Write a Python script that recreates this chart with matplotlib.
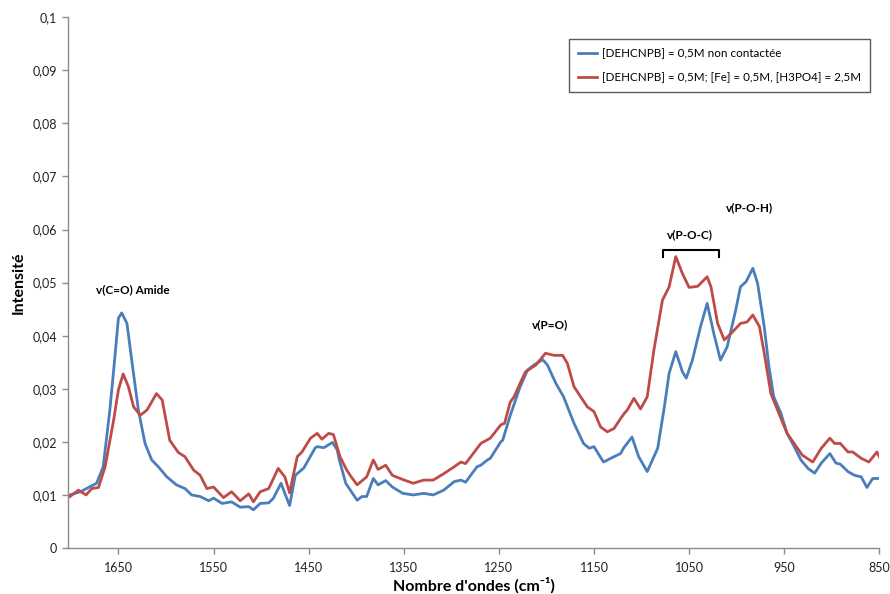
import matplotlib
matplotlib.use("Agg")
import matplotlib.pyplot as plt
from matplotlib.ticker import FuncFormatter

plt.rcParams['font.family'] = ['Lato', 'DejaVu Sans']

# Blue: [DEHCNPB] = 0,5M non contactée
wn_blue = [1701, 1690, 1673, 1666, 1659, 1654, 1650, 1646.5, 1641, 1636, 1629, 1622, 1615, 1608,
           1599, 1589, 1580, 1573, 1564, 1555, 1550, 1541, 1531, 1522, 1513, 1508, 1501, 1492,
           1487, 1479, 1475, 1470, 1464, 1455, 1443, 1441, 1434, 1425, 1420, 1418, 1411, 1399,
           1394, 1389, 1382, 1377, 1369, 1362, 1351, 1340, 1329, 1319, 1308, 1297, 1290, 1285,
           1273, 1269, 1262, 1259, 1248, 1246, 1238, 1228, 1220, 1213, 1204, 1199, 1190, 1182,
           1171, 1161, 1155, 1150, 1140, 1129, 1122, 1119, 1110, 1103, 1094, 1083, 1076, 1071,
           1064, 1057, 1053, 1046.5, 1038, 1031, 1024, 1017, 1010, 1001, 996, 990, 983, 978,
           971, 966, 961, 953.5, 947, 939.5, 932.5, 925, 918, 911, 902, 895.6, 891, 883, 876,
           869, 863, 857, 850]
int_blue = [0.0100, 0.0106, 0.0122, 0.0153, 0.0260, 0.0354, 0.0433, 0.0443, 0.0423, 0.0354,
            0.0260, 0.0197, 0.0166, 0.0153, 0.0134, 0.0119, 0.0112, 0.0100, 0.0097, 0.0089,
            0.0094, 0.0084, 0.0087, 0.0077, 0.0078, 0.0072, 0.0084, 0.0085, 0.0094, 0.0122,
            0.0103, 0.0080, 0.0137, 0.0151, 0.0189, 0.0191, 0.0189, 0.0199, 0.0185, 0.0168,
            0.0122, 0.0090, 0.0097, 0.0097, 0.0131, 0.0119, 0.0127, 0.0115, 0.0103, 0.0100,
            0.0103, 0.0100, 0.0109, 0.0125, 0.0128, 0.0124, 0.0153, 0.0156, 0.0166, 0.0169,
            0.0200, 0.0203, 0.0250, 0.0302, 0.0335, 0.0345, 0.0355, 0.0345, 0.0310, 0.0285,
            0.0235, 0.0197, 0.0188, 0.0191, 0.0162, 0.0172, 0.0178, 0.0188, 0.0209, 0.0172,
            0.0144, 0.0188, 0.0266, 0.0329, 0.0370, 0.0332, 0.0320, 0.0354, 0.0417, 0.0461,
            0.0404, 0.0354, 0.0379, 0.0448, 0.0492, 0.0502, 0.0527, 0.0499, 0.0417, 0.0341,
            0.0285, 0.0254, 0.0216, 0.0191, 0.0166, 0.0150, 0.0141, 0.0160, 0.0178, 0.0160,
            0.0158, 0.0144, 0.0137, 0.0134, 0.0114, 0.0131, 0.0131]

# Red: [DEHCNPB] = 0,5M; [Fe] = 0,5M, [H3PO4] = 2,5M
wn_red = [1701, 1692, 1684, 1678, 1671, 1664, 1655, 1650, 1645, 1639.5, 1634, 1627, 1620, 1617,
          1610, 1604, 1596, 1587, 1580, 1571, 1564, 1557, 1550, 1539.5, 1531, 1522, 1513, 1508,
          1501, 1492, 1482, 1475, 1470, 1462, 1457, 1448, 1441, 1436, 1429, 1424, 1417, 1410,
          1406, 1399, 1389, 1382, 1377, 1369, 1362, 1351, 1340, 1329, 1319, 1308, 1297, 1290,
          1285, 1269, 1259, 1248, 1244, 1238, 1234, 1227, 1222, 1211, 1201, 1192, 1183, 1178,
          1171, 1164, 1157, 1150, 1143, 1136, 1129, 1122, 1118, 1115, 1108, 1101, 1094, 1087,
          1078, 1071, 1064, 1057, 1050, 1041, 1031, 1027, 1020, 1013, 1006, 996, 989, 983, 976,
          971, 964, 957, 947, 939.5, 931, 920, 911, 902, 897, 891, 883, 878, 869, 861, 852.5, 850]
int_red = [0.0097, 0.0109, 0.0100, 0.0112, 0.0114, 0.0153, 0.0241, 0.0298, 0.0328, 0.0304,
           0.0266, 0.0250, 0.0260, 0.0269, 0.0291, 0.0279, 0.0203, 0.0180, 0.0172, 0.0147,
           0.0137, 0.0112, 0.0115, 0.0095, 0.0106, 0.0089, 0.0102, 0.0087, 0.0106, 0.0112,
           0.0150, 0.0134, 0.0104, 0.0172, 0.0181, 0.0207, 0.0216, 0.0205, 0.0216, 0.0214,
           0.0172, 0.0147, 0.0136, 0.0119, 0.0134, 0.0166, 0.0148, 0.0156, 0.0137, 0.0129,
           0.0122, 0.0128, 0.0128, 0.0140, 0.0153, 0.0162, 0.0159, 0.0197, 0.0207, 0.0232,
           0.0235, 0.0275, 0.0285, 0.0313, 0.0332, 0.0345, 0.0367, 0.0363, 0.0363, 0.0348,
           0.0304, 0.0285, 0.0266, 0.0257, 0.0228, 0.0219, 0.0225, 0.0244, 0.0254, 0.0260,
           0.0282, 0.0262, 0.0285, 0.0373, 0.0467, 0.0492, 0.0549, 0.0517, 0.0491, 0.0493,
           0.0511, 0.0492, 0.0423, 0.0392, 0.0404, 0.0423, 0.0426, 0.0439, 0.0417, 0.0367,
           0.0291, 0.0260, 0.0216, 0.0197, 0.0175, 0.0162, 0.0188, 0.0207, 0.0197, 0.0197,
           0.0181, 0.0181, 0.0169, 0.0162, 0.0181, 0.0172]

label_blue = "[DEHCNPB] = 0,5M non contactée"
label_red = "[DEHCNPB] = 0,5M; [Fe] = 0,5M, [H3PO4] = 2,5M"
x_ticks = [1650, 1550, 1450, 1350, 1250, 1150, 1050, 950, 850]
y_ticks = [0, 0.01, 0.02, 0.03, 0.04, 0.05, 0.06, 0.07, 0.08, 0.09, 0.1]

annotations = [("v(C=O) Amide", 1635, 0.0487),
               ("v(P=O)", 1196, 0.0420),
               ("v(P-O-C)", 1049, 0.0591),
               ("v(P-O-H)", 986, 0.0642)]

fig = plt.figure(figsize=(8.9, 5.94), dpi=100)
ax = fig.add_axes([0.0764, 0.0774, 0.988 - 0.0764, 0.971 - 0.0774])

ax.plot(wn_blue, int_blue, color='#4A7EBB', lw=2.0, label=label_blue, solid_joinstyle='round')
ax.plot(wn_red, int_red, color='#BE4B48', lw=2.0, label=label_red, solid_joinstyle='round')

ax.set_xlim(1703, 850)
ax.set_ylim(0, 0.1)
ax.set_xticks(x_ticks)
ax.set_yticks(y_ticks)
ax.yaxis.set_major_formatter(FuncFormatter(lambda v, p: ('%g' % round(v, 3)).replace('.', ',')))

for s in ['top', 'right']:
    ax.spines[s].set_visible(False)
for s in ['left', 'bottom']:
    ax.spines[s].set_color('#8C8C8C')
    ax.spines[s].set_linewidth(1.0)
ax.tick_params(axis='both', direction='out', length=4, width=1, color='#8C8C8C',
               labelsize=9, labelcolor='#222222', pad=4)
ax.tick_params(axis='x', pad=6)

ax.set_xlabel("Nombre d'ondes (cm\u207b\u00b9)", fontsize=11.5, fontweight='bold', labelpad=2)
ax.set_ylabel("Intensité", fontsize=11.5, fontweight='bold', labelpad=5)

for txt, x, y in annotations:
    ax.text(x, y, txt, fontsize=8.5, fontweight='bold', ha='center', va='center')

# bracket for P-O-C
ax.plot([1077.5, 1077.5, 1019, 1019], [0.0548, 0.0561, 0.0561, 0.0548], color='black', lw=1.5)

leg = ax.legend(loc='upper right', bbox_to_anchor=(0.9885, 0.9586), fontsize=8.4, frameon=True,
                fancybox=False, edgecolor='#333333', handlelength=1.7, borderpad=0.75,
                labelspacing=1.15, handletextpad=0.4, borderaxespad=0.0)
leg.get_frame().set_linewidth(1.0)

fig.savefig('out.png', dpi=100)
